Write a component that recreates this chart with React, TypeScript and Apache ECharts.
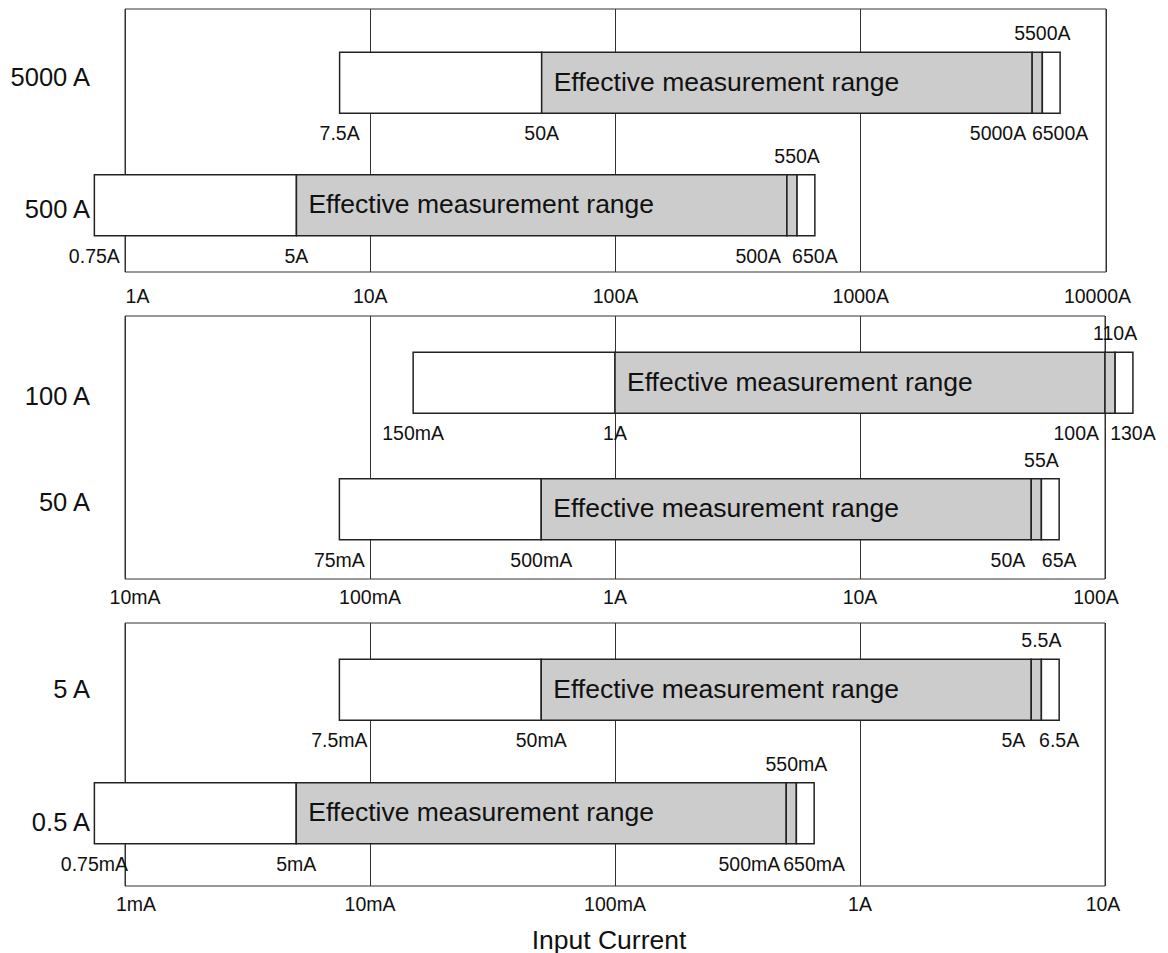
import React, { useEffect, useRef } from "react";
import * as echarts from "echarts";

// ---------- DATA ----------
const panel1Categories = ["5000 A", "500 A"];
const panel1Ranges = [
  [7.5, 50, 5000, 5500, 6500],
  [0.75, 5, 500, 550, 650],
];
const panel1RangeLabels = [
  ["7.5A", "50A", "5000A", "5500A", "6500A"],
  ["0.75A", "5A", "500A", "550A", "650A"],
];
const panel1Ticks = ["1A", "10A", "100A", "1000A", "10000A"];
const panel1Min = 1;
const panel1Max = 10000;

const panel2Categories = ["100 A", "50 A"];
const panel2Ranges = [
  [0.15, 1, 100, 110, 130],
  [0.075, 0.5, 50, 55, 65],
];
const panel2RangeLabels = [
  ["150mA", "1A", "100A", "110A", "130A"],
  ["75mA", "500mA", "50A", "55A", "65A"],
];
const panel2Ticks = ["10mA", "100mA", "1A", "10A", "100A"];
const panel2Min = 0.01;
const panel2Max = 100;

const panel3Categories = ["5 A", "0.5 A"];
const panel3Ranges = [
  [0.0075, 0.05, 5, 5.5, 6.5],
  [0.00075, 0.005, 0.5, 0.55, 0.65],
];
const panel3RangeLabels = [
  ["7.5mA", "50mA", "5A", "5.5A", "6.5A"],
  ["0.75mA", "5mA", "500mA", "550mA", "650mA"],
];
const panel3Ticks = ["1mA", "10mA", "100mA", "1A", "10A"];
const panel3Min = 0.001;
const panel3Max = 10;

const effectiveText = "Effective measurement range";
const axisTitle = "Input Current";

// ---------- STYLE / LAYOUT ----------
const FONT = '"Liberation Sans", Arial, Helvetica, sans-serif';
const GRAY = "#cccccc";
const LINE = "#222222";
const SMALL = 19.5;

const panels = [
  { categories: panel1Categories, ranges: panel1Ranges, labels: panel1RangeLabels, ticks: panel1Ticks, min: panel1Min, max: panel1Max },
  { categories: panel2Categories, ranges: panel2Ranges, labels: panel2RangeLabels, ticks: panel2Ticks, min: panel2Min, max: panel2Max },
  { categories: panel3Categories, ranges: panel3Ranges, labels: panel3RangeLabels, ticks: panel3Ticks, min: panel3Min, max: panel3Max },
];

const layout = [
  { top: 9, width: 981, labelMargin: 14, catShift: [2, 3], barShift: [8, -1], firstPad: 25, lastPad: 17 },
  { top: 316, width: 980, labelMargin: 8, catShift: [14, -11], barShift: [1, -4], firstPad: 20, lastPad: 18 },
  { top: 623, width: 980, labelMargin: 8, catShift: [0, 2], barShift: [1, -7], firstPad: 22, lastPad: 4 },
];

function buildOption() {
  const grid: any[] = [];
  const xAxis: any[] = [];
  const yAxis: any[] = [];
  const series: any[] = [];

  panels.forEach((p, i) => {
    const L = layout[i];
    grid.push({
      left: 125,
      top: L.top,
      width: L.width,
      height: 263,
      show: true,
      borderColor: "#333",
      borderWidth: 1,
      backgroundColor: "transparent",
    });

    const txt = (pad: number[]) => ({
      fontSize: SMALL,
      fontFamily: FONT,
      color: "#111",
      padding: pad,
    });

    xAxis.push({
      type: "log",
      logBase: 10,
      gridIndex: i,
      min: p.min,
      max: p.max,
      axisLine: { show: false },
      axisTick: { show: false },
      splitLine: { show: true, lineStyle: { color: "#333", width: 1 } },
      minorSplitLine: { show: false },
      axisLabel: {
        show: true,
        margin: L.labelMargin,
        fontSize: SMALL,
        fontFamily: FONT,
        color: "#111",
        formatter: (v: number) => {
          const idx = Math.round(Math.log10(v / p.min));
          const t = p.ticks[idx] ?? "";
          if (idx === 0) return `{f|${t}}`;
          if (idx === p.ticks.length - 1) return `{l|${t}}`;
          return `{m|${t}}`;
        },
        rich: {
          f: txt([0, 0, 0, L.firstPad]),
          l: txt([0, L.lastPad, 0, 0]),
          m: txt([0, 0, 0, 0]),
        },
      },
    });

    const shiftPad = (s: number) => (s >= 0 ? [2 * s, 0, 0, 0] : [0, 0, -2 * s, 0]);
    yAxis.push({
      type: "category",
      gridIndex: i,
      data: p.categories,
      inverse: true,
      axisLine: { show: false },
      axisTick: { show: false },
      splitLine: { show: false },
      axisLabel: {
        margin: 35,
        fontSize: 25.5,
        fontFamily: FONT,
        color: "#111",
        formatter: (v: string, idx: number) => `{c${idx}|${v}}`,
        rich: {
          c0: { fontSize: 25.5, fontFamily: FONT, color: "#111", padding: shiftPad(L.catShift[0]) },
          c1: { fontSize: 25.5, fontFamily: FONT, color: "#111", padding: shiftPad(L.catShift[1]) },
        },
      },
    });

    const data = p.ranges.map((r, ci) => [ci, ...r]);

    series.push({
      type: "custom",
      xAxisIndex: i,
      yAxisIndex: i,
      clip: false,
      silent: true,
      encode: { x: [1, 2, 3, 4, 5], y: 0 },
      data,
      renderItem: (params: any, api: any) => {
        const cat = api.value(0);
        const vals = [1, 2, 3, 4, 5].map((k) => api.value(k));
        const xs = vals.map((v) => api.coord([v, cat])[0]);
        const yc = api.coord([vals[0], cat])[1] + L.barShift[params.dataIndex];
        const band = Math.abs(api.coord([vals[0], 1])[1] - api.coord([vals[0], 0])[1]);
        const h = band * 0.464;
        const top = yc - h / 2;
        const bottom = yc + h / 2;
        const labs = p.labels[params.dataIndex];
        const rect = (x0: number, x1: number, fill: string) => ({
          type: "rect",
          shape: { x: x0, y: top, width: x1 - x0, height: h },
          style: { fill, stroke: LINE, lineWidth: 1.5 },
        });
        const text = (x: number, y: number, s: string, align: string, size: number) => ({
          type: "text",
          x,
          y,
          style: {
            text: s,
            fontSize: size,
            fontFamily: FONT,
            fill: "#111",
            align,
            verticalAlign: "middle",
          },
        });
        return {
          type: "group",
          children: [
            rect(xs[0], xs[1], "#ffffff"),
            rect(xs[1], xs[2], GRAY),
            rect(xs[2], xs[3], GRAY),
            rect(xs[3], xs[4], "#ffffff"),
            text(xs[1] + 12, yc - 1, effectiveText, "left", 26.5),
            text(xs[0], bottom + 20, labs[0], "center", SMALL),
            text(xs[1], bottom + 20, labs[1], "center", SMALL),
            text(xs[2] - 6, bottom + 20, labs[2], "right", SMALL),
            text(xs[3], top - 19, labs[3], "center", SMALL),
            text(xs[4], bottom + 20, labs[4], "center", SMALL),
          ],
        };
      },
    });
  });

  return {
    animation: false,
    backgroundColor: "#ffffff",
    title: {
      text: axisTitle,
      left: 604,
      top: 921,
      textAlign: "center",
      textStyle: { fontSize: 26.5, fontWeight: "normal", fontFamily: FONT, color: "#111" },
    },
    grid,
    xAxis,
    yAxis,
    series,
  };
}

export default function App() {
  const ref = useRef<HTMLDivElement>(null);
  useEffect(() => {
    if (!ref.current) return;
    const chart = echarts.init(ref.current, undefined, { renderer: "svg" });
    chart.setOption(buildOption() as any);
    return () => chart.dispose();
  }, []);
  return (
    <div
      ref={ref}
      style={{ position: "absolute", left: 0, top: 0, width: 1168, height: 953, background: "#fff" }}
    />
  );
}
